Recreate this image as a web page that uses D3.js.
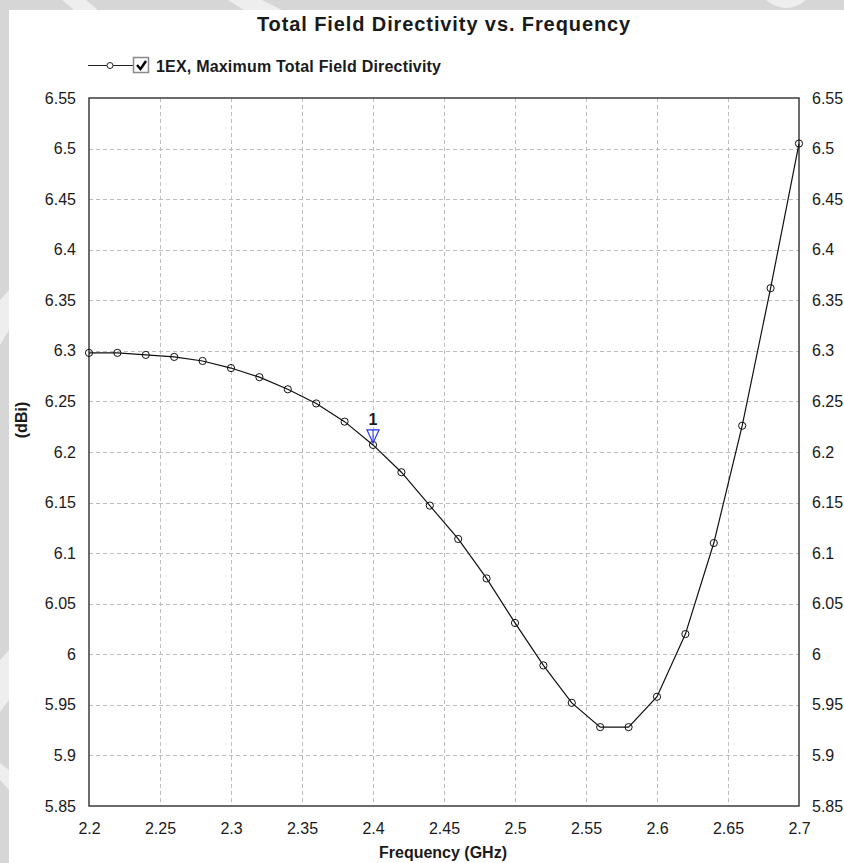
<!DOCTYPE html>
<html>
<head>
<meta charset="utf-8">
<script src="https://cdn.jsdelivr.net/npm/d3@7/dist/d3.min.js"></script>
<style>
  html, body { margin: 0; padding: 0; background: #ffffff; }
  svg { display: block; }
  text { font-family: "Liberation Sans", Arial, sans-serif; fill: #1a1a1a; }
</style>
</head>
<body>
<svg id="chart" width="844" height="863"></svg>
<script>
// Frequency sweep (GHz) and maximum total-field directivity (dBi)
const frequencies = [2.20, 2.22, 2.24, 2.26, 2.28, 2.30, 2.32, 2.34, 2.36, 2.38,
                     2.40, 2.42, 2.44, 2.46, 2.48, 2.50, 2.52, 2.54, 2.56, 2.58,
                     2.60, 2.62, 2.64, 2.66, 2.68, 2.70];
const directivity = [6.298, 6.298, 6.296, 6.294, 6.290, 6.283, 6.274, 6.262, 6.248, 6.230,
                     6.207, 6.180, 6.147, 6.114, 6.075, 6.031, 5.989, 5.952, 5.928, 5.928,
                     5.958, 6.020, 6.110, 6.226, 6.362, 6.505];

// Axis ticks and their printed labels
const xTicks = [2.2, 2.25, 2.3, 2.35, 2.4, 2.45, 2.5, 2.55, 2.6, 2.65, 2.7];
const xTickLabels = ["2.2", "2.25", "2.3", "2.35", "2.4", "2.45", "2.5", "2.55", "2.6", "2.65", "2.7"];
const yTicks = [5.85, 5.9, 5.95, 6.0, 6.05, 6.1, 6.15, 6.2, 6.25, 6.3, 6.35, 6.4, 6.45, 6.5, 6.55];
const yTickLabels = ["5.85", "5.9", "5.95", "6", "6.05", "6.1", "6.15", "6.2", "6.25", "6.3", "6.35", "6.4", "6.45", "6.5", "6.55"];

// Marker "1" placed on the sample at 2.4 GHz
const markerNames = ["1"];
const markerFreqs = [2.40];

const titleText = "Total Field Directivity vs. Frequency";
const legendText = "1EX, Maximum Total Field Directivity";
const xTitle = "Frequency (GHz)";
const yTitle = "(dBi)";

const svg = d3.select("#chart");
const W = 844, H = 863;
const plot = { left: 89, right: 799, top: 98, bottom: 806 };

// Window background: grey frame with faint watermark shapes, white client area
svg.append("rect").attr("width", W).attr("height", H).attr("fill", "#d6d6d6");
const wm = svg.append("g").attr("fill", "#eeeeee");
wm.append("path").attr("d", "M62,0 L86,0 L98,10 L74,10 Z");
wm.append("path").attr("d", "M228,0 L262,0 L282,10 L244,10 Z");
wm.append("path").attr("d", "M766,0 Q786,16 806,0 Z");
wm.append("path").attr("d", "M0,300 L9,290 L9,330 L0,345 Z");
wm.append("path").attr("d", "M0,660 L9,650 L9,700 L0,712 Z");
wm.append("path").attr("d", "M0,763 L9,770 L9,790 L0,780 Z");
svg.append("rect").attr("x", 9).attr("y", 10).attr("width", W - 9).attr("height", H - 10).attr("fill", "#ffffff");

// Scales
const x = d3.scaleLinear().domain([2.2, 2.7]).range([plot.left, plot.right]);
const y = d3.scaleLinear().domain([5.85, 6.55]).range([plot.bottom, plot.top]);

// Dashed grid
const grid = svg.append("g").attr("stroke", "#bdbdbd").attr("stroke-width", 1)
  .attr("stroke-dasharray", "4,3").attr("shape-rendering", "crispEdges");
grid.selectAll(".gx").data(xTicks.slice(1, -1)).join("line")
  .attr("x1", d => Math.round(x(d)) + 0.5).attr("x2", d => Math.round(x(d)) + 0.5)
  .attr("y1", plot.top).attr("y2", plot.bottom);
grid.selectAll(".gy").data(yTicks.slice(1, -1)).join("line")
  .attr("y1", d => Math.round(y(d)) + 0.5).attr("y2", d => Math.round(y(d)) + 0.5)
  .attr("x1", plot.left).attr("x2", plot.right);

// Axes (labels only; frame drawn separately)
const fmtX = d => xTickLabels[xTicks.indexOf(d)];
const fmtY = d => yTickLabels[yTicks.indexOf(d)];

const axisStyle = g => {
  g.select(".domain").remove();
  g.selectAll(".tick line").remove();
  g.selectAll("text").attr("font-size", 16).attr("fill", "#1a1a1a")
    .attr("font-family", "'Liberation Sans', Arial, sans-serif");
};

svg.append("g").attr("transform", `translate(${plot.left},0)`)
  .call(d3.axisLeft(y).tickValues(yTicks).tickFormat(fmtY).tickSize(0).tickPadding(13))
  .call(axisStyle);
svg.append("g").attr("transform", `translate(${plot.right},0)`)
  .call(d3.axisRight(y).tickValues(yTicks).tickFormat(fmtY).tickSize(0).tickPadding(13))
  .call(axisStyle);
svg.append("g").attr("transform", `translate(0,${plot.bottom})`)
  .call(d3.axisBottom(x).tickValues(xTicks).tickFormat(fmtX).tickSize(0).tickPadding(17))
  .call(axisStyle);

// Plot frame
svg.append("rect")
  .attr("x", plot.left).attr("y", plot.top)
  .attr("width", plot.right - plot.left).attr("height", plot.bottom - plot.top)
  .attr("fill", "none").attr("stroke", "#3c3c3c").attr("stroke-width", 1.5);

// Data trace
const pts = frequencies.map((f, i) => [f, directivity[i]]);
const line = d3.line().x(d => x(d[0])).y(d => y(d[1]));
svg.append("path").datum(pts).attr("d", line)
  .attr("fill", "none").attr("stroke", "#111").attr("stroke-width", 1.2);
svg.append("g").selectAll("circle").data(pts).join("circle")
  .attr("cx", d => x(d[0])).attr("cy", d => y(d[1])).attr("r", 3.6)
  .attr("fill", "none").attr("stroke", "#111").attr("stroke-width", 1);

// Marker triangle and its label
markerFreqs.forEach((mf, k) => {
  const i = frequencies.indexOf(mf);
  const mx = x(mf), my = y(directivity[i]);
  const g = svg.append("g");
  g.append("path")
    .attr("d", `M${mx - 6},${my - 15} L${mx + 6},${my - 15} L${mx},${my - 2} Z`)
    .attr("fill", "none").attr("stroke", "#2233ee").attr("stroke-width", 1.2);
  g.append("line").attr("x1", mx).attr("x2", mx).attr("y1", my - 15).attr("y2", my - 3)
    .attr("stroke", "#2233ee").attr("stroke-width", 1);
  g.append("text").attr("x", mx).attr("y", my - 20).attr("text-anchor", "middle")
    .attr("font-size", 16).attr("font-weight", "bold").text(markerNames[k]);
});

// Title
svg.append("text").attr("x", 444).attr("y", 31).attr("text-anchor", "middle")
  .attr("font-size", 20).attr("font-weight", "bold").attr("letter-spacing", 0.9)
  .text(titleText);

// Legend: line with marker, checkbox, series name
const lg = svg.append("g");
lg.append("line").attr("x1", 88).attr("x2", 133).attr("y1", 65.5).attr("y2", 65.5)
  .attr("stroke", "#222").attr("stroke-width", 1.2);
lg.append("circle").attr("cx", 110).attr("cy", 65.5).attr("r", 3)
  .attr("fill", "#fff").attr("stroke", "#222").attr("stroke-width", 1);
lg.append("rect").attr("x", 133.5).attr("y", 57.5).attr("width", 15).attr("height", 15)
  .attr("fill", "#fff").attr("stroke", "#8a8a8a").attr("stroke-width", 1.5);
lg.append("path").attr("d", "M137,65 L140.5,69 L146,61")
  .attr("fill", "none").attr("stroke", "#000").attr("stroke-width", 2.4);
lg.append("text").attr("x", 156).attr("y", 71.5)
  .attr("font-size", 16).attr("font-weight", "bold").attr("letter-spacing", 0.2)
  .text(legendText);

// Axis titles
svg.append("text").attr("x", 443).attr("y", 858).attr("text-anchor", "middle")
  .attr("font-size", 16).attr("font-weight", "bold").text(xTitle);
svg.append("text").attr("transform", "translate(27,420) rotate(-90)")
  .attr("text-anchor", "middle").attr("font-size", 16).attr("font-weight", "bold")
  .text(yTitle);
</script>
</body>
</html>
